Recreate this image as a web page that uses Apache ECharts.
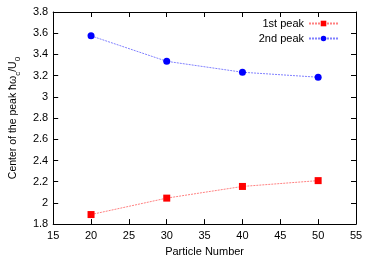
<!DOCTYPE html>
<html><head><meta charset="utf-8">
<script src="https://cdn.jsdelivr.net/npm/echarts@6/dist/echarts.min.js"></script>
<style>html,body{margin:0;padding:0;background:#fff}#c{width:374px;height:262px}</style>
</head><body><div id="c"></div>
<script>
const particleNumbers = [20, 30, 40, 50];
const firstPeak = [1.89, 2.045, 2.155, 2.21];
const secondPeak = [3.575, 3.335, 3.232, 3.185];
const seriesNames = ['1st peak', '2nd peak'];

const font = 'Liberation Sans, Arial, Helvetica, sans-serif';
const chart = echarts.init(document.getElementById('c'));
const axisCommon = {
  axisLine: {show: true, lineStyle: {color: '#000', width: 1}},
  axisTick: {show: true, inside: true, length: 5, lineStyle: {color: '#000'}},
  splitLine: {show: false}
};
chart.setOption({
  animation: false,
  grid: {left: 45, right: 18, top: 12, bottom: 34},
  legend: {
    orient: 'vertical', right: 30, top: 13, align: 'right',
    itemWidth: 29, itemHeight: 7, itemGap: 4,
    textStyle: {fontFamily: font, fontSize: 11, color: '#000'},
    data: seriesNames
  },
  xAxis: [
    Object.assign({type: 'value', min: 15, max: 55, interval: 5,
      name: 'Particle Number', nameLocation: 'middle', nameGap: 20,
      nameTextStyle: {fontFamily: font, fontSize: 11, color: '#000'},
      axisLabel: {fontFamily: font, fontSize: 11, color: '#000', margin: 6}}, axisCommon),
    Object.assign({type: 'value', min: 15, max: 55, interval: 5, position: 'top',
      axisLabel: {show: false}}, axisCommon)
  ],
  yAxis: [
    Object.assign({type: 'value', min: 1.8, max: 3.8, interval: 0.2,
      name: '{n|Center of the peak ħω}{s|c}{n|/U}{s|0}', nameLocation: 'middle', nameGap: 28, nameRotate: 90,
      nameTextStyle: {fontFamily: font, fontSize: 10.5, color: '#000',
        rich: {n: {fontFamily: font, fontSize: 10.5, color: '#000', lineHeight: 14, verticalAlign: 'top'},
               s: {fontFamily: font, fontSize: 8, color: '#000', lineHeight: 14, verticalAlign: 'bottom', padding: [3, 0, 0, 0]}}},
      axisLabel: {fontFamily: font, fontSize: 11, color: '#000', margin: 5,
        formatter: v => String(Math.round(v * 10) / 10)}}, axisCommon),
    Object.assign({type: 'value', min: 1.8, max: 3.8, interval: 0.2, position: 'right',
      axisLabel: {show: false}}, axisCommon)
  ],
  series: [
    {name: seriesNames[0], type: 'line', data: particleNumbers.map((x, i) => [x, firstPeak[i]]),
     symbol: 'rect', symbolSize: 7, itemStyle: {color: '#ff0000'},
     lineStyle: {color: '#ff8080', width: 1, type: [2, 1]}},
    {name: seriesNames[1], type: 'line', data: particleNumbers.map((x, i) => [x, secondPeak[i]]),
     symbol: 'circle', symbolSize: 7, itemStyle: {color: '#0000ff'},
     lineStyle: {color: '#8080ff', width: 1, type: [2, 1]}}
  ]
});
</script></body></html>
